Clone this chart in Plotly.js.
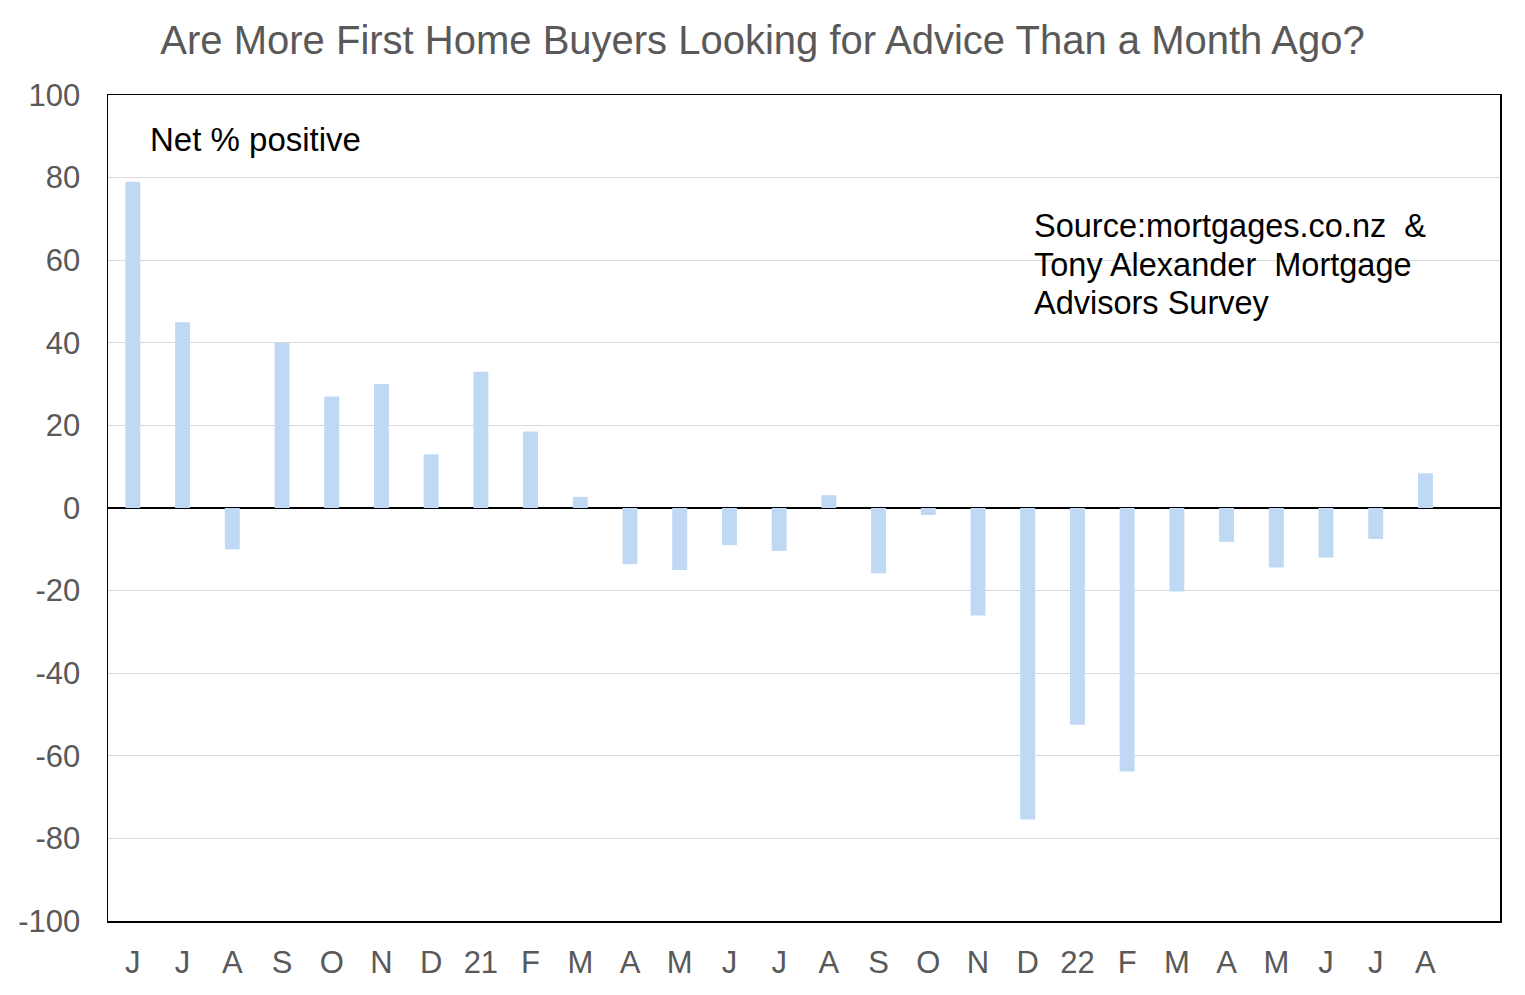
<!DOCTYPE html>
<html>
<head>
<meta charset="utf-8">
<script src="https://cdn.plot.ly/plotly-3.0.1.min.js"></script>
<style>
  html, body { margin: 0; padding: 0; background: #fff; }
  #chart { width: 1525px; height: 995px; }
</style>
</head>
<body>
<div id="chart"></div>
<script>
// month labels, Jun 2020 .. Aug 2022
const months = ['J', 'J', 'A', 'S', 'O', 'N', 'D', '21', 'F', 'M', 'A', 'M', 'J', 'J',
  'A', 'S', 'O', 'N', 'D', '22', 'F', 'M', 'A', 'M', 'J', 'J', 'A'];
// net % of advisors seeing more first home buyers
const netPositive = [79, 45, -10, 40, 27, 30, 13, 33, 18.5, 2.7, -13.6, -15, -9, -10.4,
  3.1, -15.8, -1.7, -26, -75.4, -52.5, -63.8, -20.2, -8.2, -14.4, -12, -7.5, 8.4];
// y axis ticks (plain hyphen, as in the original)
const yTicks = [-100, -80, -60, -40, -20, 0, 20, 40, 60, 80, 100];
const yTickText = ['-100', '-80', '-60', '-40', '-20', '0', '20', '40', '60', '80', '100'];

const sourceLines = ['Source:mortgages.co.nz  &', 'Tony Alexander  Mortgage', 'Advisors Survey'];

const idx = months.map((m, i) => i);

const font = 'Liberation Sans, Arial, sans-serif';

const trace = {
  type: 'bar',
  x: idx,
  y: netPositive,
  width: 0.3,
  marker: { color: 'rgb(191,217,245)' },
  hoverinfo: 'y',
};

const sourceNotes = sourceLines.map((t, i) => ({
  text: t,
  xref: 'paper', yref: 'y',
  x: 0.6635, y: 68.3 - i * 9.35,
  xanchor: 'left', yanchor: 'middle',
  showarrow: false,
  font: { family: font, size: 32.5, color: '#000' },
}));

const layout = {
  width: 1525,
  height: 995,
  margin: { l: 108, r: 25, t: 95, b: 74, pad: 0 },
  paper_bgcolor: '#fff',
  plot_bgcolor: '#fff',
  showlegend: false,
  font: { family: font, color: '#595959', size: 31 },
  title: {
    text: 'Are More First Home Buyers Looking for Advice Than a Month Ago?',
    font: { family: font, size: 40, color: '#595959' },
    x: 0.5, xref: 'container', xanchor: 'center',
    y: 0.96, yanchor: 'middle',
  },
  xaxis: {
    tickmode: 'array',
    tickvals: idx,
    ticktext: months,
    range: [-0.5, months.length + 0.5],
    showgrid: false,
    zeroline: false,
    showline: true,
    linecolor: '#000',
    linewidth: 1.5,
    mirror: true,
    ticks: '',
    ticklabelstandoff: 13,
    tickfont: { size: 31, color: '#595959' },
  },
  yaxis: {
    range: [-100, 100],
    tickmode: 'array',
    tickvals: yTicks,
    ticktext: yTickText,
    showgrid: true,
    gridcolor: '#d9d9d9',
    gridwidth: 1.3,
    zeroline: true,
    zerolinecolor: '#000',
    zerolinewidth: 1.5,
    showline: true,
    linecolor: '#000',
    linewidth: 1.5,
    mirror: true,
    ticks: '',
    ticklabelstandoff: 20,
    tickfont: { size: 31, color: '#595959' },
  },
  annotations: [
    {
      text: 'Net % positive',
      xref: 'paper', yref: 'y',
      x: 0.0287, y: 89.3,
      xanchor: 'left', yanchor: 'middle',
      showarrow: false,
      font: { family: font, size: 33, color: '#000' },
    },
  ].concat(sourceNotes),
};

Plotly.newPlot('chart', [trace], layout, { displayModeBar: false, staticPlot: true });
</script>
</body>
</html>
